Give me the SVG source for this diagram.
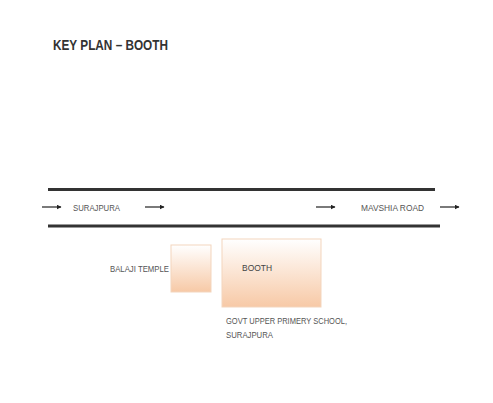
<svg xmlns="http://www.w3.org/2000/svg" width="493" height="403" viewBox="0 0 493 403">
<defs>
<linearGradient id="peach" x1="0" y1="0" x2="0" y2="1">
<stop offset="0" stop-color="#ffffff"/>
<stop offset="1" stop-color="#f7c9a6"/>
</linearGradient>
<marker id="ah" viewBox="0 0 10 10" refX="9" refY="5" markerWidth="5" markerHeight="5" orient="auto" markerUnits="userSpaceOnUse">
<path d="M0,0 L10,5 L0,10 z" fill="#222"/>
</marker>
<style>
.lbl{font-family:"Liberation Sans",Arial,sans-serif;font-size:9.5px;fill:#555}
.title{font-family:"Liberation Sans",Arial,sans-serif;font-size:15px;font-weight:bold;fill:#333}
.road{stroke:#333;stroke-width:3;fill:none}
.arr{stroke:#222;stroke-width:1.2;fill:none;marker-end:url(#ah)}
.box{fill:url(#peach);stroke:#f3d5bd;stroke-width:1}
</style>
</defs>
<rect width="493" height="403" fill="#ffffff"/>
<text class="title" x="53" y="50" textLength="115" lengthAdjust="spacingAndGlyphs">KEY PLAN – BOOTH</text>
<g id="road">
<line class="road" x1="48" y1="189.5" x2="435" y2="189.5"/>
<line class="road" x1="48" y1="226" x2="440" y2="226"/>
</g>
<g id="connectors">
<line class="arr" x1="42" y1="207" x2="61" y2="207"/>
<line class="arr" x1="145" y1="207" x2="164" y2="207"/>
<line class="arr" x1="316" y1="207" x2="335" y2="207"/>
<line class="arr" x1="440" y1="207" x2="459" y2="207"/>
</g>
<text class="lbl" x="73" y="211" textLength="47" lengthAdjust="spacingAndGlyphs">SURAJPURA</text>
<text class="lbl" x="361" y="211" textLength="63" lengthAdjust="spacingAndGlyphs">MAVSHIA ROAD</text>
<g id="temple">
<rect class="box" x="171" y="245" width="40" height="47"/>
<text class="lbl" x="110" y="272" textLength="59" lengthAdjust="spacingAndGlyphs">BALAJI TEMPLE</text>
</g>
<g id="booth">
<rect class="box" x="222" y="239" width="99" height="68"/>
<text class="lbl" x="242" y="271" textLength="30" lengthAdjust="spacingAndGlyphs" style="fill:#444">BOOTH</text>
</g>
<g id="school">
<text class="lbl" x="226" y="324" textLength="121" lengthAdjust="spacingAndGlyphs">GOVT UPPER PRIMERY SCHOOL,</text>
<text class="lbl" x="226" y="338" textLength="47" lengthAdjust="spacingAndGlyphs">SURAJPURA</text>
</g>
</svg>
